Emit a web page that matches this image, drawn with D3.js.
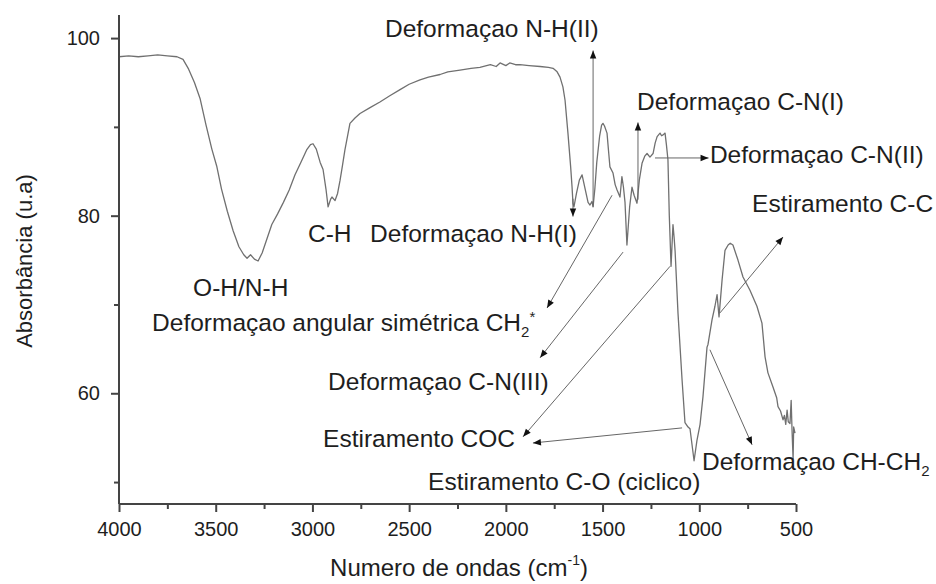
<!DOCTYPE html>
<html>
<head>
<meta charset="utf-8">
<script src="https://cdn.jsdelivr.net/npm/d3@7"></script>
<style>
  html, body { margin: 0; padding: 0; background: #fff; }
  svg text { font-family: "Liberation Sans", Arial, sans-serif; fill: #1e1e1e; }
</style>
</head>
<body>
<svg id="chart" width="936" height="584"></svg>
<script>
// FTIR spectrum: wavenumber (cm-1) and absorbance (u.a)
const wavenumber = [
  4000, 3950, 3900, 3850, 3800, 3750, 3700, 3669, 3640, 3610, 3581, 3550, 3520, 3495, 3470, 3440,
  3410, 3380, 3355, 3338, 3320, 3300, 3281, 3260, 3235, 3210, 3180, 3150, 3120, 3090, 3060, 3030,
  3010, 2997, 2980, 2960, 2945, 2930, 2919, 2905, 2899, 2883, 2870, 2857, 2845, 2832, 2806, 2780,
  2754, 2700, 2651, 2600, 2547, 2500, 2444, 2400, 2340, 2300, 2237, 2180, 2134, 2080, 2050, 2030,
  2000, 1980, 1950, 1927, 1880, 1823, 1780, 1756, 1735, 1720, 1705, 1694, 1679, 1665, 1658, 1653,
  1648, 1635, 1620, 1606, 1590, 1575, 1565, 1555, 1549, 1540, 1530, 1515, 1505, 1498, 1490, 1477,
  1468, 1462, 1446, 1435, 1425, 1410, 1400, 1392, 1384, 1374, 1360, 1348, 1337, 1322, 1310, 1296,
  1282, 1270, 1255, 1239, 1228, 1218, 1203, 1195, 1187, 1177, 1170, 1162, 1155, 1146, 1136, 1130,
  1125, 1110, 1089, 1074, 1058, 1048, 1027, 1012, 996, 981, 960, 955, 934, 919, 908, 898,
  882, 867, 851, 840, 826, 800, 774, 738, 702, 676, 660, 645, 619, 600, 593, 580,
  567, 560, 553, 546, 540, 531, 525, 520, 515, 512, 505
];
const absorbance = [
  97.9, 98.0, 97.9, 98.0, 98.1, 98.0, 97.9, 97.6, 96.5, 95.0, 93.2, 90.2, 87.5, 85.6, 83.0, 80.5,
  78.3, 76.5, 75.6, 75.2, 75.6, 75.1, 74.9, 75.8, 77.4, 79.0, 80.2, 81.5, 82.9, 84.6, 86.0, 87.4,
  88.0, 88.1, 87.5, 86.0, 85.2, 83.0, 81.0, 81.9, 82.1, 81.7, 82.5, 84.0, 85.6, 87.4, 90.4, 91.0,
  91.5, 92.2, 92.8, 93.5, 94.2, 94.8, 95.3, 95.6, 95.9, 96.2, 96.4, 96.6, 96.7, 97.0, 96.8, 97.2,
  96.9, 97.2, 97.0, 97.0, 96.9, 96.8, 96.7, 96.6, 96.2, 95.6, 94.5, 93.0, 89.3, 85.5, 83.3, 81.4,
  81.0, 82.5, 84.0, 84.6, 83.0, 81.5, 81.2, 81.6, 81.0, 83.0, 86.0, 89.0, 90.2, 90.4, 90.1, 89.3,
  87.0, 85.5, 84.8, 83.5, 82.9, 82.1, 84.4, 83.2, 81.5, 76.7, 81.0, 83.2, 82.3, 81.4, 84.0, 85.9,
  86.7, 87.0, 86.6, 87.0, 88.2, 88.9, 89.3, 89.0, 89.1, 89.3, 88.0, 86.3, 80.0, 74.3, 79.0, 77.5,
  76.0, 69.0, 61.5, 56.7, 56.2, 56.0, 52.4, 54.7, 56.5, 59.6, 65.2, 65.5, 68.3, 69.8, 71.1, 68.6,
  72.8, 76.1, 76.7, 76.9, 76.7, 75.0, 73.1, 71.6, 69.8, 67.9, 64.1, 62.3, 60.7, 59.5, 58.5, 58.0,
  57.0, 57.5, 56.5, 58.1, 56.8, 56.6, 59.2, 55.5, 52.6, 56.2, 55.5
];

// Axis ticks
const xMajorTicks = [4000, 3500, 3000, 2500, 2000, 1500, 1000, 500];
const xMinorTicks = [3750, 3250, 2750, 2250, 1750, 1250, 750];
const yMajorTicks = [60, 80, 100];
const yMinorTicks = [50, 70, 90];

// Band assignments: label text, label anchor (wavenumber, absorbance)
const bandLabels = [
  { parts: [["Deformaçao N-H(II)"]], w: 2625, a: 100.15 },
  { parts: [["O-H/N-H"]], w: 3617, a: 71.0 },
  { parts: [["C-H"]], w: 3023, a: 77.05 },
  { parts: [["Deformaçao N-H(I)"]], w: 2702, a: 77.05 },
  { parts: [["Deformaçao C-N(I)"]], w: 1322, a: 91.9 },
  { parts: [["Deformaçao C-N(II)"]], w: 945, a: 85.95 },
  { parts: [["Estiramento C-C"]], w: 727, a: 80.4 },
  { parts: [["Deformaçao angular simétrica CH"], ["2", "sub"], ["*", "sup"]], w: 3829, a: 67.0 },
  { parts: [["Deformaçao C-N(III)"]], w: 2919, a: 60.4 },
  { parts: [["Estiramento COC"]], w: 2945, a: 54.0 },
  { parts: [["Estiramento C-O (ciclico)"]], w: 2402, a: 49.1 },
  { parts: [["Deformaçao CH-CH"], ["2", "sub"]], w: 986, a: 51.4 }
];

// Pointer arrows: from (w1, a1) to arrowhead at (w2, a2)
const bandArrows = [
  { w1: 1549, a1: 81.0, w2: 1549, a2: 98.6 },
  { w1: 1653, a1: 81.9, w2: 1653, a2: 79.9 },
  { w1: 1317, a1: 81.8, w2: 1317, a2: 90.5 },
  { w1: 1229, a1: 86.5, w2: 952, a2: 86.5 },
  { w1: 893, a1: 69.05, w2: 567, a2: 77.6 },
  { w1: 1451, a1: 82.3, w2: 1787, a2: 69.6 },
  { w1: 1394, a1: 75.9, w2: 1823, a2: 64.0 },
  { w1: 1151, a1: 74.3, w2: 1911, a2: 55.1 },
  { w1: 1089, a1: 56.1, w2: 1860, a2: 54.4 },
  { w1: 945, a1: 64.9, w2: 727, a2: 54.2 }
];

const width = 936, height = 584;
const margin = { top: 15, right: 140, bottom: 80, left: 119 };

const svg = d3.select("#chart");

const x = d3.scaleLinear().domain([4000, 500]).range([margin.left, width - margin.right]);
const y = d3.scaleLinear().domain([47.53, 102.6]).range([height - margin.bottom, margin.top]);

// Arrowhead marker
svg.append("defs").append("marker")
  .attr("id", "arrowhead")
  .attr("viewBox", "0 0 10 10")
  .attr("refX", 10).attr("refY", 5)
  .attr("markerWidth", 11).attr("markerHeight", 8)
  .attr("markerUnits", "userSpaceOnUse")
  .attr("orient", "auto")
  .append("path")
  .attr("d", "M0,1 L10,5 L0,9 Z")
  .attr("fill", "#111");

// Spectrum
const spectrum = wavenumber.map((w, i) => ({ w, a: absorbance[i] }));
svg.append("path")
  .datum(spectrum)
  .attr("fill", "none")
  .attr("stroke", "#707070")
  .attr("stroke-width", 1.3)
  .attr("stroke-linejoin", "round")
  .attr("d", d3.line().x(d => x(d.w)).y(d => y(d.a)));

// Arrows
svg.append("g").selectAll("line")
  .data(bandArrows)
  .join("line")
  .attr("x1", d => x(d.w1)).attr("y1", d => y(d.a1))
  .attr("x2", d => x(d.w2)).attr("y2", d => y(d.a2))
  .attr("stroke", "#666")
  .attr("stroke-width", 1)
  .attr("marker-end", "url(#arrowhead)");

// Labels
const labelG = svg.append("g").attr("font-size", 24.5);
bandLabels.forEach(lb => {
  const t = labelG.append("text").attr("x", x(lb.w)).attr("y", y(lb.a));
  lb.parts.forEach(([str, kind]) => {
    const ts = t.append("tspan").text(str);
    if (kind === "sub") ts.attr("font-size", 15).attr("dy", 6);
    if (kind === "sup") ts.attr("font-size", 15).attr("dy", -15);
  });
});

// X axis
const axisColor = "#444";
const xAxisG = svg.append("g").attr("transform", `translate(0,${height - margin.bottom})`);
xAxisG.call(d3.axisBottom(x).tickValues(xMajorTicks).tickSize(8).tickPadding(10).tickFormat(d3.format("d")));
xAxisG.append("g").call(d3.axisBottom(x).tickValues(xMinorTicks).tickSize(5).tickFormat(""))
  .select(".domain").remove();
xAxisG.selectAll(".domain").attr("stroke", axisColor).attr("stroke-width", 2)
  .attr("d", `M${x(4000)},0H${x(500)}`);
xAxisG.selectAll(".tick line").attr("stroke", axisColor).attr("stroke-width", 2);
xAxisG.selectAll(".tick text").attr("font-size", 20).attr("fill", "#1e1e1e");

// Y axis
const yAxisG = svg.append("g").attr("transform", `translate(${margin.left},0)`);
yAxisG.call(d3.axisLeft(y).tickValues(yMajorTicks).tickSize(8).tickPadding(11).tickFormat(d3.format("d")));
yAxisG.append("g").call(d3.axisLeft(y).tickValues(yMinorTicks).tickSize(5).tickFormat(""))
  .select(".domain").remove();
yAxisG.selectAll(".domain").attr("stroke", axisColor).attr("stroke-width", 2)
  .attr("d", `M0,${y(47.53)}V${y(102.6)}`);
yAxisG.selectAll(".tick line").attr("stroke", axisColor).attr("stroke-width", 2);
yAxisG.selectAll(".tick text").attr("font-size", 20).attr("fill", "#1e1e1e");

// Axis titles
const xTitle = svg.append("text")
  .attr("x", 459).attr("y", 576)
  .attr("text-anchor", "middle")
  .attr("font-size", 24);
xTitle.append("tspan").text("Numero de ondas (cm");
xTitle.append("tspan").text("-1").attr("font-size", 14).attr("dy", -11);
xTitle.append("tspan").text(")").attr("dy", 11);

svg.append("text")
  .attr("transform", "translate(32,261) rotate(-90)")
  .attr("text-anchor", "middle")
  .attr("font-size", 22)
  .text("Absorbância (u.a)");
</script>
</body>
</html>
